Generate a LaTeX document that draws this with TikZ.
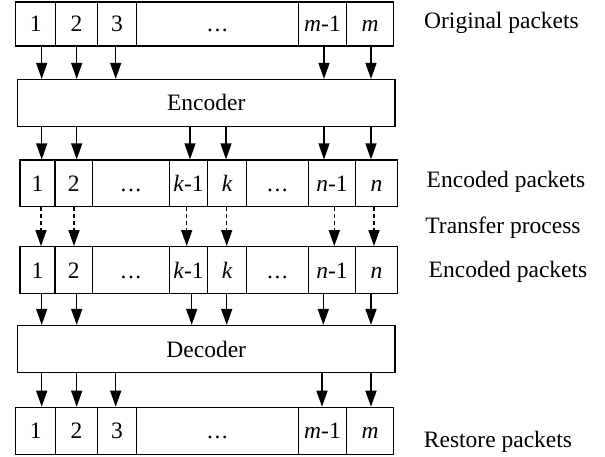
\documentclass[tikz,border=0pt]{standalone}
\usepackage{fontspec}
\setmainfont{Liberation Serif}
\usetikzlibrary{arrows.meta}
\tikzset{
  box/.style={draw, line width=1.2pt, inner sep=0pt, text height=16pt, text depth=0pt, font=\fontsize{23.5}{26}\selectfont},
  arr/.style={line width=1.5pt, -{Triangle[length=16pt,width=11pt]}},
  darr/.style={arr, dash pattern=on 4pt off 3pt},
  lbl/.style={inner sep=0pt, font=\fontsize{23.5}{26}\selectfont},
}
\newcommand\pkt[6]{\node[box, minimum width={(#3-#2)*1pt}, minimum height={(#5-#4)*1pt}] (#1) at ({(#2+#3)/2},{(#4+#5)/2}) {#6};}
\newcommand\dotsx{.\kern1.5pt.\kern1.5pt.}
\begin{document}
\begin{tikzpicture}[x=1pt,y=-1pt]
\useasboundingbox (0,0) rectangle (605,457);
% original packets
\pkt{o1}{15.7}{55.7}{2}{46}{1}
\pkt{o2}{55.7}{97.3}{2}{46}{2}
\pkt{o3}{97.3}{136.7}{2}{46}{3}
\pkt{o4}{136.7}{298.3}{2}{46}{\dotsx}
\pkt{o5}{298.3}{346.7}{2}{46}{\textit{m}-1}
\pkt{o6}{346.7}{393.3}{2}{46}{\textit{m}}
% encoder
\pkt{enc}{17.5}{395}{79.5}{126.5}{Encoder}
% encoded packets (sent)
\pkt{a1}{20}{55}{160}{206.7}{1}
\pkt{a2}{55}{92.7}{160}{206.7}{2}
\pkt{a3}{92.7}{169.3}{160}{206.7}{\dotsx}
\pkt{a4}{169.3}{207.7}{160}{206.7}{\textit{k}-1}
\pkt{a5}{207.7}{246.7}{160}{206.7}{\textit{k}}
\pkt{a6}{246.7}{308.3}{160}{206.7}{\dotsx}
\pkt{a7}{308.3}{355.7}{160}{206.7}{\textit{n}-1}
\pkt{a8}{355.7}{397.3}{160}{206.7}{\textit{n}}
% encoded packets (received)
\pkt{b1}{20}{55}{246.7}{293.3}{1}
\pkt{b2}{55}{92.7}{246.7}{293.3}{2}
\pkt{b3}{92.7}{169.3}{246.7}{293.3}{\dotsx}
\pkt{b4}{169.3}{207.7}{246.7}{293.3}{\textit{k}-1}
\pkt{b5}{207.7}{246.7}{246.7}{293.3}{\textit{k}}
\pkt{b6}{246.7}{308.3}{246.7}{293.3}{\dotsx}
\pkt{b7}{308.3}{355.7}{246.7}{293.3}{\textit{n}-1}
\pkt{b8}{355.7}{397.3}{246.7}{293.3}{\textit{n}}
% decoder
\pkt{dec}{17.5}{395}{325.5}{372.7}{Decoder}
% restored packets
\pkt{r1}{15.7}{55.7}{407.3}{454.3}{1}
\pkt{r2}{55.7}{97.3}{407.3}{454.3}{2}
\pkt{r3}{97.3}{136.7}{407.3}{454.3}{3}
\pkt{r4}{136.7}{298.3}{407.3}{454.3}{\dotsx}
\pkt{r5}{298.3}{346.7}{407.3}{454.3}{\textit{m}-1}
\pkt{r6}{346.7}{393.3}{407.3}{454.3}{\textit{m}}
% labels
\node[lbl] (l1) at (501.5,23) {Original packets};
\node[lbl] (l2) at (506,181.7) {Encoded packets};
\node[lbl] (l3) at (503,228) {Transfer process};
\node[lbl] (l4) at (508,271.7) {Encoded packets};
\node[lbl] (l5) at (498,441.7) {Restore packets};
% arrows: original -> encoder
\foreach \c/\x in {o1/41.7, o2/76.7, o3/115.7, o5/324, o6/371}{
  \coordinate (xx) at (\x,0);
  \draw[arr] (\c.south -| xx) -- (enc.north -| xx);
}
% encoder -> encoded
\foreach \c/\x in {a1/41.7, a2/76.7, a4/190, a5/226, a7/324, a8/371}{
  \coordinate (xx) at (\x,0);
  \draw[arr] (enc.south -| xx) -- (\c.north -| xx);
}
% transfer (dashed)
\foreach \s/\t/\x in {a1/b1/41, a2/b2/74, a4/b4/186.7, a5/b5/226.7, a7/b7/334.3, a8/b8/374}{
  \coordinate (xx) at (\x,0);
  \draw[darr] (\s.south -| xx) -- (\t.north -| xx);
}
% received -> decoder
\foreach \c/\x in {b1/41.7, b2/76.7, b4/191.7, b5/226.7, b7/323.3, b8/371}{
  \coordinate (xx) at (\x,0);
  \draw[arr] (\c.south -| xx) -- (dec.north -| xx);
}
% decoder -> restored
\foreach \c/\x in {r1/41.7, r2/76.7, r3/115.7, r5/322, r6/371}{
  \coordinate (xx) at (\x,0);
  \draw[arr] (dec.south -| xx) -- (\c.north -| xx);
}
\end{tikzpicture}
\end{document}
